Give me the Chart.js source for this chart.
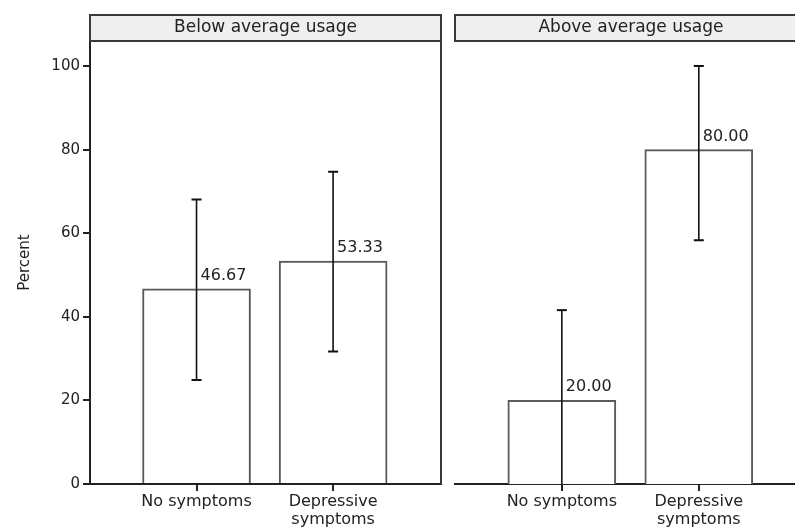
<!DOCTYPE html>
<html>
<head>
<meta charset="utf-8">
<script src="https://cdn.jsdelivr.net/npm/chart.js@4.4.1/dist/chart.umd.min.js"></script>
<style>
  html, body { margin: 0; padding: 0; background: #fff; overflow: hidden; }
  #wrap { position: relative; width: 795px; height: 530px; overflow: hidden; background: #fff; }
  #cL { position: absolute; left: 0; top: 0; }
  #cR { position: absolute; left: 445px; top: 0; }
</style>
</head>
<body>
<div id="wrap">
  <canvas id="cL" width="460" height="530"></canvas>
  <canvas id="cR" width="380" height="530"></canvas>
</div>
<script>
// ---- data ----
const categories = ['No symptoms', 'Depressive symptoms'];
const xTickLabels = [['No symptoms'], ['Depressive', 'symptoms']];
const panelTitles = ['Below average usage', 'Above average usage'];
const belowPct = [46.67, 53.33];
const belowLo = [24.9, 31.7];
const belowHi = [68.1, 74.7];
const abovePct = [20.00, 80.00];
const aboveLo = [0, 58.3];
const aboveHi = [41.6, 100];
const yTickValues = [0, 20, 40, 60, 80, 100];
const yAxisTitle = 'Percent';

const FONT = 'DejaVu Sans';
const INK = '#222222';

const panelPlugin = {
  id: 'panelDeco',
  beforeDraw(chart) {
    const {ctx, chartArea: a} = chart;
    ctx.save();
    ctx.fillStyle = '#efefef';
    ctx.fillRect(a.left, 15, a.right - a.left, a.top - 15);
    ctx.restore();
  },
  afterDatasetsDraw(chart, args, opts) {
    const {ctx, scales} = chart;
    const meta = chart.getDatasetMeta(0);
    const lo = opts.lo, hi = opts.hi, vals = opts.vals;
    ctx.save();
    meta.data.forEach((el, i) => {
      const x = el.x;
      const yT = scales.y.getPixelForValue(hi[i]);
      const yB = scales.y.getPixelForValue(lo[i]);
      ctx.strokeStyle = '#111';
      ctx.lineWidth = 1.6;
      ctx.beginPath();
      ctx.moveTo(x, yT); ctx.lineTo(x, yB);
      ctx.stroke();
      ctx.lineWidth = 2;
      ctx.beginPath();
      ctx.moveTo(x - 5, yT); ctx.lineTo(x + 5, yT);
      if (lo[i] > 0) { ctx.moveTo(x - 5, yB); ctx.lineTo(x + 5, yB); }
      ctx.stroke();
      ctx.fillStyle = INK;
      ctx.font = '16px "' + FONT + '"';
      ctx.textAlign = 'left';
      ctx.textBaseline = 'alphabetic';
      ctx.fillText(vals[i].toFixed(2), x + 4, el.y - 9);
    });
    ctx.restore();
  },
  afterDraw(chart) {
    const {ctx, chartArea: a} = chart;
    ctx.save();
    ctx.strokeStyle = '#3a3a3a';
    ctx.lineWidth = 2;
    ctx.strokeRect(a.left, 15, a.right - a.left, a.top - 15);
    ctx.beginPath();
    ctx.moveTo(a.right, a.top); ctx.lineTo(a.right, a.bottom);
    ctx.stroke();
    ctx.restore();
  }
};

function makeChart(canvasId, title, vals, lo, hi, showY, padding) {
  return new Chart(document.getElementById(canvasId), {
    type: 'bar',
    data: {
      datasets: [{
        data: vals.map((v, i) => ({x: i, y: v})),
        backgroundColor: '#ffffff',
        borderColor: '#5a5a5a',
        borderWidth: 2,
        borderSkipped: 'start',
        barThickness: 108
      }]
    },
    options: {
      responsive: false,
      animation: false,
      layout: { padding: padding },
      plugins: {
        legend: { display: false },
        tooltip: { enabled: false },
        title: {
          display: true,
          text: title,
          fullSize: false,
          color: INK,
          font: { family: FONT, size: 17, weight: 'normal', lineHeight: 1.2 },
          padding: { top: 17.8, bottom: 2.8 }
        },
        panelDeco: { vals: vals, lo: lo, hi: hi }
      },
      scales: {
        x: {
          type: 'linear',
          offset: false,
          min: -0.78,
          max: 1.79,
          afterBuildTicks: (s) => { s.ticks = categories.map((c, i) => ({value: i})); },
          afterFit: (s) => { s.height = 46; },
          ticks: {
            callback: (v) => xTickLabels[v],
            color: INK,
            font: { family: FONT, size: 16, lineHeight: 1.1 },
            padding: 2,
            maxRotation: 0,
            autoSkip: false
          },
          grid: { display: true, offset: false, drawOnChartArea: false, drawTicks: true, tickLength: 7, color: INK, lineWidth: 2 },
          border: { display: true, color: INK, width: 2 }
        },
        y: {
          display: showY,
          min: 0,
          max: 106,
          afterBuildTicks: (s) => { s.ticks = yTickValues.map(v => ({value: v})); },
          afterFit: (s) => { if (showY) s.width = 90; },
          ticks: {
            color: INK,
            font: { family: FONT, size: 15 },
            padding: 3
          },
          title: {
            display: true,
            text: yAxisTitle,
            color: INK,
            font: { family: FONT, size: 15 },
            padding: { top: 16, bottom: 0 }
          },
          grid: { display: true, drawOnChartArea: false, drawTicks: true, tickLength: 7, color: INK, lineWidth: 2 },
          border: { display: true, color: INK, width: 2 }
        }
      }
    },
    plugins: [panelPlugin]
  });
}

makeChart('cL', panelTitles[0], belowPct, belowLo, belowHi, true, {left: 0, right: 19, top: 0, bottom: 0});
makeChart('cR', panelTitles[1], abovePct, aboveLo, aboveHi, false, {left: 10, right: 18, top: 0, bottom: 0});
</script>
</body>
</html>
